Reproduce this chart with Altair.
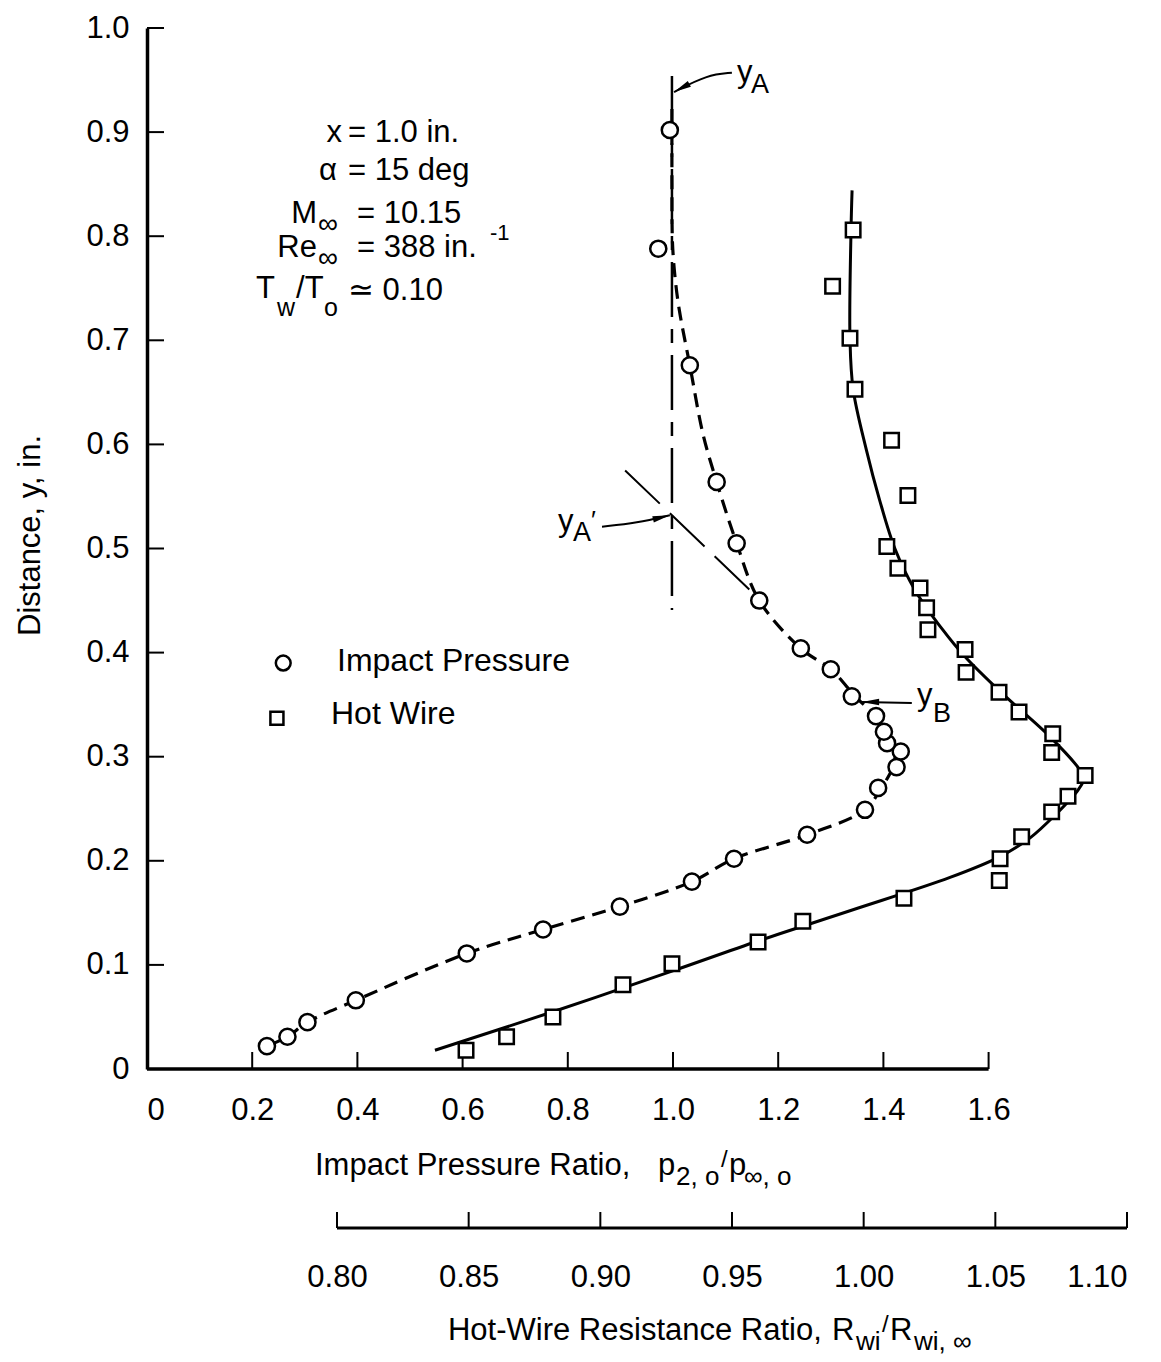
import altair as alt
import pandas as pd

FONT = "Liberation Sans, Arial, Helvetica, sans-serif"
W, H = 980, 1041

# ---------------- data ----------------
# Impact pressure ratio (circles)
imp_x = [0.228, 0.267, 0.305, 0.397, 0.608, 0.753, 0.899, 1.036, 1.116, 1.255, 1.365, 1.390,
         1.425, 1.433, 1.407, 1.401, 1.386, 1.340, 1.300, 1.243, 1.164, 1.121, 1.083, 1.032,
         0.972, 0.994]
imp_y = [0.022, 0.031, 0.045, 0.066, 0.111, 0.134, 0.156, 0.180, 0.202, 0.225, 0.249, 0.270,
         0.290, 0.305, 0.313, 0.324, 0.339, 0.358, 0.384, 0.404, 0.450, 0.505, 0.564, 0.676,
         0.788, 0.902]
# faired dashed curve through impact pressure data
impc_x = [0.228, 0.267, 0.305, 0.397, 0.608, 0.753, 0.899, 1.036, 1.116, 1.255, 1.365, 1.396,
          1.418, 1.422, 1.410, 1.390, 1.350, 1.300, 1.243, 1.164, 1.121, 1.083, 1.057, 1.032,
          1.012, 1.004, 0.999, 0.998, 0.998]
impc_y = [0.022, 0.031, 0.045, 0.066, 0.111, 0.134, 0.156, 0.180, 0.202, 0.225, 0.249, 0.270,
          0.290, 0.305, 0.320, 0.337, 0.356, 0.384, 0.404, 0.450, 0.505, 0.564, 0.610, 0.676,
          0.729, 0.760, 0.794, 0.851, 0.924]

# Hot-wire resistance ratio (squares)
hw_x = [0.9960, 0.9882, 0.9948, 0.9967, 1.0106, 1.0168, 1.0088, 1.0130, 1.0214, 1.0239, 1.0244,
        1.0385, 1.0389, 1.0514, 1.0590, 1.0718, 1.0714, 1.0841, 1.0776, 1.0714, 1.0600, 1.0518,
        1.0515, 1.0153, 0.9769, 0.9599, 0.9272, 0.9086, 0.8820, 0.8644, 0.8490]
hw_y = [0.806, 0.752, 0.702, 0.653, 0.604, 0.551, 0.502, 0.481, 0.462, 0.443, 0.422,
        0.403, 0.381, 0.362, 0.343, 0.322, 0.304, 0.282, 0.262, 0.247, 0.223, 0.202,
        0.181, 0.164, 0.142, 0.122, 0.101, 0.081, 0.050, 0.031, 0.018]
# faired solid curve through hot-wire data
hwc_x = [0.9956, 0.9952, 0.9948, 0.9960, 1.0010, 1.0060, 1.0120, 1.0195, 1.0300, 1.0385,
         1.0525, 1.0708, 1.0822, 1.0837, 1.0814, 1.0727, 1.0632, 1.0518, 1.0328, 0.9948,
         0.9599, 0.9272, 0.8820, 0.8372]
hwc_y = [0.844, 0.806, 0.702, 0.653, 0.595, 0.547, 0.499, 0.460, 0.422, 0.396,
         0.361, 0.319, 0.287, 0.279, 0.268, 0.244, 0.222, 0.204, 0.184, 0.152,
         0.123, 0.094, 0.055, 0.018]

# axis tick values
ip_ticks = [0, 0.2, 0.4, 0.6, 0.8, 1.0, 1.2, 1.4, 1.6]
hw_ticks = [0.80, 0.85, 0.90, 0.95, 1.00, 1.05, 1.10]
y_ticks = [0, 0.1, 0.2, 0.3, 0.4, 0.5, 0.6, 0.7, 0.8, 0.9, 1.0]

# construction lines (impact-pressure units)
yA_line_x = [0.998, 0.998]
yA_line_y = [0.954, 0.441]
tangent_x = [0.909, 1.165]
tangent_y = [0.575, 0.451]

# arrows (impact-pressure units)
arrow_id = ["top", "top", "top", "mid", "mid", "mid", "B", "B"]
arrow_x = [1.112, 1.065, 1.002, 0.865, 0.932, 0.994, 1.454, 1.359]
arrow_y = [0.957, 0.955, 0.9385, 0.521, 0.5245, 0.532, 0.3516, 0.3525]
head_x = [1.002, 0.994, 1.359]
head_y = [0.9385, 0.532, 0.3525]
head_angle = [242, 76, 270]

# legend symbols
leg_circle_x, leg_circle_y = [0.259], [0.390]
leg_square_x, leg_square_y = [0.247], [0.337]

# text pieces: text, x (impact units), y, align, font size
txt = ["x", "= 1.0 in.", "\u03b1", "= 15 deg", "M", "\u221e", "= 10.15", "Re", "\u221e",
       "= 388 in.", "-1", "T", "w", "/T", "o", "\u2243 0.10",
       "Impact Pressure", "Hot Wire",
       "y", "A", "y", "A", "\u2032", "y", "B",
       "Impact Pressure Ratio,", "p", "2, o", "/", "p", "\u221e, o",
       "Hot-Wire Resistance Ratio,", "R", "wi", "/", "R", "wi, \u221e"]
txt_x = [0.3707, 0.3821, 0.3612, 0.3821, 0.3232, 0.3251, 0.3992, 0.3232, 0.3251,
         0.3992, 0.6520, 0.2433, 0.2471, 0.2833, 0.3365, 0.3821,
         0.3612, 0.3498,
         1.1217, 1.1483, 0.7814, 0.8099, 0.8440, 1.4639, 1.4943,
         0.3194, 0.9715, 1.0057, 1.0913, 1.1065, 1.1350,
         0.5722, 1.3023, 1.3479, 1.3973, 1.4125, 1.4582]
txt_y = [0.8905, 0.8905, 0.8540, 0.8540, 0.8127, 0.8031, 0.8127, 0.7800, 0.7704,
         0.7800, 0.7964, 0.7406, 0.7233, 0.7406, 0.7233, 0.7387,
         0.3823, 0.3314,
         0.9481, 0.9376, 0.5168, 0.5072, 0.5190, 0.3497, 0.3333,
         -0.1018, -0.1018, -0.1114, -0.0941, -0.1018, -0.1114,
         -0.2603, -0.2603, -0.2699, -0.2526, -0.2603, -0.2699]
txt_align = ["right", "left", "right", "left", "right", "left", "left", "right", "left",
             "left", "left", "right", "left", "left", "left", "left",
             "left", "left",
             "left", "left", "left", "left", "left", "left", "left",
             "left", "left", "left", "left", "left", "left",
             "left", "left", "left", "left", "left", "left"]
txt_size = [31, 31, 31, 31, 31, 28, 31, 31, 28,
            31, 22, 31, 25, 31, 25, 31,
            32, 32,
            31, 27, 31, 27, 26, 31, 27,
            31, 31, 26, 24, 31, 26,
            31, 31, 26, 24, 31, 26]

# ---------------- scales ----------------
IP_DOMAIN = [0, W / 526.0]
HW_DOMAIN = [0.80 - 190 / 2633.33, 1.10]
x_ip = alt.Scale(domain=IP_DOMAIN, nice=False, zero=False)
x_hw = alt.Scale(domain=HW_DOMAIN, nice=False, zero=False)
y_sc = alt.Scale(domain=[0, 1], nice=False, zero=False)


def XI(f):
    return alt.X(f, type="quantitative", scale=x_ip, axis=None)


def XH(f):
    return alt.X(f, type="quantitative", scale=x_hw, axis=None)


def YY(f):
    return alt.Y(f, type="quantitative", scale=y_sc, axis=None)


imp_df = pd.DataFrame({"x": imp_x, "y": imp_y})
impc_df = pd.DataFrame({"x": impc_x, "y": impc_y, "o": range(len(impc_x))})
hw_df = pd.DataFrame({"x": hw_x, "y": hw_y})
hwc_df = pd.DataFrame({"x": hwc_x, "y": hwc_y, "o": range(len(hwc_x))})

# main impact circles layer carries the y axis and main x axis
y_axis = alt.Axis(values=y_ticks, labelExpr="datum.value == 0 ? '0' : format(datum.value, '.1f')",
                  domain=True, domainColor="black", domainWidth=3.5, ticks=False, tickSize=0,
                  labelPadding=18, labelFont=FONT, labelFontSize=31, labelColor="black",
                  grid=False, title="Distance, y, in.", titleFont=FONT, titleFontSize=31,
                  titleFontWeight="normal", titleColor="black", titleAngle=270,
                  titleX=-117, titleY=507, titleAlign="center", titleBaseline="middle",
                  orient="left")
x_axis = alt.Axis(values=ip_ticks, labelExpr="datum.value == 0 ? '0' : format(datum.value, '.1f')",
                  domain=False, ticks=False, tickSize=0, labelPadding=26, labelFont=FONT,
                  labelFontSize=31, labelColor="black", grid=False, title=None, orient="bottom")
hw_axis = alt.Axis(values=hw_ticks, labelExpr="format(datum.value, '.2f')", orient="bottom",
                   offset=159, domain=False, ticks=False, tickSize=0, labelPadding=34,
                   labelFont=FONT, labelFontSize=31, labelColor="black", grid=False, title=None)

circles = alt.Chart(imp_df).mark_point(shape="circle", filled=True, fill="white", stroke="black",
                                         strokeWidth=2.5, size=260, opacity=1).encode(
    x=alt.X("x:Q", scale=x_ip, axis=x_axis),
    y=alt.Y("y:Q", scale=y_sc, axis=y_axis),
)

imp_curve = alt.Chart(impc_df).mark_line(color="black", strokeWidth=3.2, strokeDash=[14, 8],
                                           interpolate="catmull-rom").encode(
    x=XI("x"), y=YY("y"), order="o:Q")

ip_tick_df = pd.DataFrame({"v": ip_ticks[1:]})
ip_tick_rules = alt.Chart(ip_tick_df).mark_rule(color="black", strokeWidth=2).encode(
    x=XI("v"), y=alt.value(H), y2=alt.value(H - 17))
ip_line = alt.Chart(pd.DataFrame({"a": [ip_ticks[0]], "b": [ip_ticks[-1]], "y": [0]})).mark_rule(
    color="black", strokeWidth=3.5).encode(x=XI("a"), x2="b", y=YY("y"))
y_tick_df = pd.DataFrame({"v": y_ticks[1:]})
y_tick_rules = alt.Chart(y_tick_df).mark_rule(color="black", strokeWidth=2).encode(
    y=YY("v"), x=alt.value(0), x2=alt.value(17))

yA_line = alt.Chart(pd.DataFrame({"x": yA_line_x, "y": yA_line_y, "o": [0, 1]})).mark_line(
    color="black", strokeWidth=2.5, strokeDash=[55, 12, 14, 12]).encode(
    x=XI("x"), y=YY("y"), order="o:Q")
tangent = alt.Chart(pd.DataFrame({"x": tangent_x, "y": tangent_y, "o": [0, 1]})).mark_line(
    color="black", strokeWidth=2, strokeDash=[48, 14]).encode(x=XI("x"), y=YY("y"), order="o:Q")

arrows = alt.Chart(pd.DataFrame({"id": arrow_id, "x": arrow_x, "y": arrow_y,
                                 "o": range(len(arrow_x))})).mark_line(
    color="black", strokeWidth=2, interpolate="basis").encode(
    x=XI("x"), y=YY("y"), detail="id:N", order="o:Q")
heads = alt.Chart(pd.DataFrame({"x": head_x, "y": head_y, "a": head_angle})).mark_point(
    shape="M0,0L0.38,2L-0.38,2Z", filled=True, color="black", size=300, opacity=1).encode(
    x=XI("x"), y=YY("y"), angle=alt.Angle("a:Q", scale=None))

leg_c = alt.Chart(pd.DataFrame({"x": leg_circle_x, "y": leg_circle_y})).mark_point(
    shape="circle", filled=True, fill="white", stroke="black", strokeWidth=2.5, size=220,
    opacity=1).encode(x=XI("x"), y=YY("y"))
leg_s = alt.Chart(pd.DataFrame({"x": leg_square_x, "y": leg_square_y})).mark_point(
    shape="square", filled=True, fill="white", stroke="black", strokeWidth=2.5, size=170,
    opacity=1).encode(x=XI("x"), y=YY("y"))

txt_df = pd.DataFrame({"t": txt, "x": txt_x, "y": txt_y, "al": txt_align, "s": txt_size})
texts = []
for al in ["left", "right"]:
    texts.append(alt.Chart(txt_df[txt_df.al == al]).mark_text(
        align=al, baseline="alphabetic", font=FONT, color="black").encode(
        x=XI("x"), y=YY("y"), text="t:N", size=alt.Size("s:Q", scale=None)))

# hot-wire layers
hw_curve = alt.Chart(hwc_df).mark_line(color="black", strokeWidth=3,
                                        interpolate="catmull-rom").encode(
    x=XH("x"), y=YY("y"), order="o:Q")
squares = alt.Chart(hw_df).mark_point(shape="square", filled=True, fill="white", stroke="black",
                                       strokeWidth=2.5, size=210, opacity=1).encode(
    x=alt.X("x:Q", scale=x_hw, axis=hw_axis), y=YY("y"))
hw_line = alt.Chart(pd.DataFrame({"a": [hw_ticks[0]], "b": [hw_ticks[-1]]})).mark_rule(
    color="black", strokeWidth=3).encode(x=XH("a"), x2="b", y=alt.value(H + 159))
hw_tick_rules = alt.Chart(pd.DataFrame({"v": hw_ticks})).mark_rule(
    color="black", strokeWidth=2).encode(x=XH("v"), y=alt.value(H + 159), y2=alt.value(H + 143))

chart = alt.layer(
    imp_curve, ip_tick_rules, ip_line, y_tick_rules, yA_line, tangent, arrows, heads,
    hw_curve, squares, circles, leg_c, leg_s, *texts, hw_line, hw_tick_rules,
).resolve_scale(x="independent", y="independent").properties(
    width=W, height=H,
    autosize=alt.AutoSizeParams(type="none"),
    padding={"left": 139, "top": 20, "right": 25, "bottom": 290},
    background="white",
).configure_view(stroke=None)

chart.save("out.html", embed_options={"renderer": "svg", "actions": False})
